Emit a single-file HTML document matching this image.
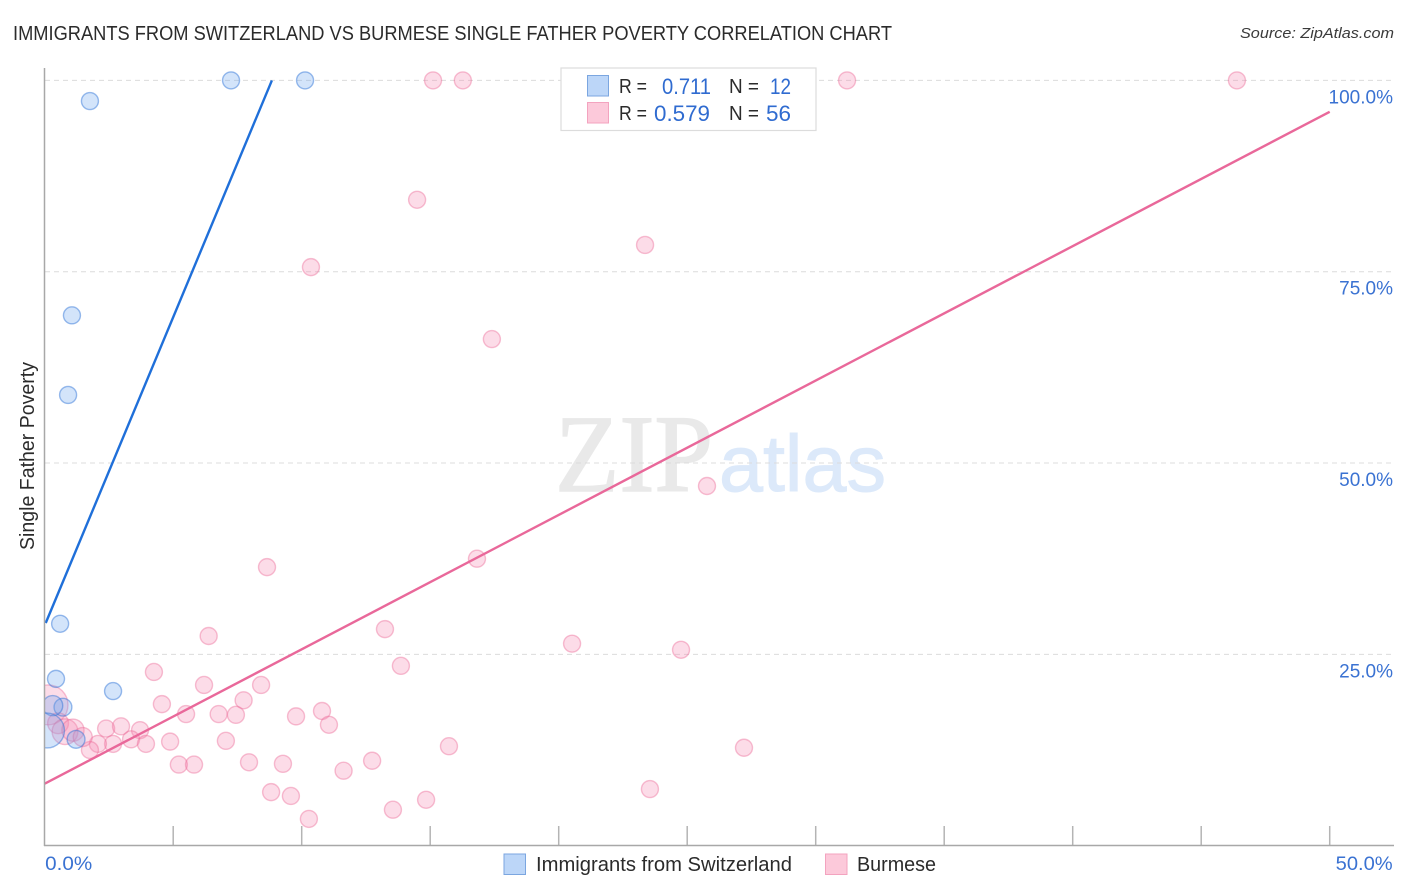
<!DOCTYPE html>
<html lang="en">
<head>
<meta charset="utf-8">
<title>Immigrants from Switzerland vs Burmese Single Father Poverty Correlation Chart</title>
<style>
html,body{margin:0;padding:0;background:#fff;width:1406px;height:892px;overflow:hidden}
svg{display:block;font-family:"Liberation Sans",sans-serif}
</style>
</head>
<body>
<svg id="chart" xmlns="http://www.w3.org/2000/svg" width="1406" height="892" viewBox="0 0 1406 892">
  <rect x="0" y="0" width="1406" height="892" fill="#fff"/>
  <text x="13" y="40" font-size="20" fill="#2b2b2b" textLength="879" lengthAdjust="spacingAndGlyphs">IMMIGRANTS FROM SWITZERLAND VS BURMESE SINGLE FATHER POVERTY CORRELATION CHART</text>
  <text x="1394" y="38" font-size="15" font-style="italic" fill="#3a3a3a" text-anchor="end" textLength="154" lengthAdjust="spacingAndGlyphs">Source: ZipAtlas.com</text>

  <g>
    <text x="555" y="491" font-family="'Liberation Serif',serif" font-size="110" fill="#e9e9e9" stroke="#e9e9e9" stroke-width="1.5" textLength="158" lengthAdjust="spacingAndGlyphs">ZIP</text>
    <text x="719" y="491" font-size="80" fill="#dce9fa" stroke="#dce9fa" stroke-width="1" textLength="167" lengthAdjust="spacingAndGlyphs">atlas</text>
  </g>

  <g id="grid"></g>
  <g id="x-ticks"></g>
  <g id="y-labels"></g>
  <g id="x-labels"></g>

  <g id="points-burmese"></g>
  <g id="points-swiss"></g>
  <g id="trends"></g>

  <rect x="0" y="660" width="44.5" height="110" fill="#fff"/>
  <g id="axes">
    <line x1="44.5" y1="68" x2="44.5" y2="846" stroke="#a8a8a8" stroke-width="1.5"/>
    <line x1="44" y1="845.5" x2="1394" y2="845.5" stroke="#a8a8a8" stroke-width="1.5"/>
  </g>

  <text transform="translate(34,456) rotate(-90)" font-size="20" fill="#2b2b2b" text-anchor="middle" textLength="188" lengthAdjust="spacingAndGlyphs">Single Father Poverty</text>

  <g>
    <rect x="561" y="68" width="255" height="62.5" fill="#fff" stroke="#dcdcdc" stroke-width="1.2"/>
    <rect x="587.5" y="75.5" width="21" height="20.5" fill="#bcd6f8" stroke="#7ba6e0" stroke-width="1"/>
    <rect x="587.5" y="102.5" width="21" height="20.5" fill="#fcc9da" stroke="#f3a3bf" stroke-width="1"/>
    <text x="619" y="93" font-size="20" fill="#2b2b2b" textLength="28" lengthAdjust="spacingAndGlyphs">R =</text>
    <text x="662" y="94" font-size="22" fill="#2f6bd0" textLength="49" lengthAdjust="spacingAndGlyphs">0.711</text>
    <text x="729" y="93" font-size="20" fill="#2b2b2b" textLength="30" lengthAdjust="spacingAndGlyphs">N =</text>
    <text x="770" y="94" font-size="22" fill="#2f6bd0" textLength="21" lengthAdjust="spacingAndGlyphs">12</text>
    <text x="619" y="120" font-size="20" fill="#2b2b2b" textLength="28" lengthAdjust="spacingAndGlyphs">R =</text>
    <text x="654" y="121" font-size="22" fill="#2f6bd0" textLength="56" lengthAdjust="spacingAndGlyphs">0.579</text>
    <text x="729" y="120" font-size="20" fill="#2b2b2b" textLength="30" lengthAdjust="spacingAndGlyphs">N =</text>
    <text x="766" y="121" font-size="22" fill="#2f6bd0" textLength="25" lengthAdjust="spacingAndGlyphs">56</text>
  </g>

  <g>
    <g>
      <rect x="504" y="854" width="21.5" height="20.5" fill="#bcd6f8" stroke="#7ba6e0" stroke-width="1"/>
      <text x="536" y="871" font-size="20" fill="#2b2b2b" textLength="256" lengthAdjust="spacingAndGlyphs">Immigrants from Switzerland</text>
    </g>
    <g>
      <rect x="825.5" y="854" width="21.5" height="20.5" fill="#fcc9da" stroke="#f3a3bf" stroke-width="1"/>
      <text x="857" y="871" font-size="20" fill="#2b2b2b" textLength="79" lengthAdjust="spacingAndGlyphs">Burmese</text>
    </g>
  </g>
</svg>
<script>
var yTickValues = [25, 50, 75, 100];
var yTickLabels = ['25.0%', '50.0%', '75.0%', '100.0%'];
var xTickValues = [0, 5, 10, 15, 20, 25, 30, 35, 40, 45, 50];
var xLabelValues = [0, 50];
var xLabelTexts = ['0.0%', '50.0%'];

var swissX = [1.76, 7.25, 10.13, 1.06, 0.91, 0.6, 0.44, 2.66, 0.71, 0.31, 1.22, 0.09];
var swissY = [97.3, 100, 100, 69.3, 58.9, 29.0, 21.8, 20.2, 18.1, 18.3, 13.9, 15.05];
var swissSize = [1, 1, 1, 1, 1, 1, 1, 1, 1.1, 1.4, 1.1, 4.2];

var burmeseX = [15.11, 16.27, 31.22, 46.39, 14.49, 23.36, 10.36, 17.40, 25.77, 16.82, 8.65, 6.38, 13.24, 20.52, 24.76, 13.86, 4.25, 6.2, 8.42, 4.56, 7.74, 5.5, 6.77, 7.44, 9.78, 10.79, 11.06, 2.39, 2.97, 3.71, 3.36, 2.66, 2.07, 1.76, 3.94, 4.88, 7.05, 15.73, 27.21, 11.63, 12.74, 5.22, 5.81, 7.95, 9.27, 8.81, 9.58, 10.28, 13.55, 14.84, 23.55, 0.13, 0.52, 0.79, 1.1, 1.48];
var burmeseY = [100, 100, 100, 100, 84.4, 78.5, 75.6, 66.2, 47.0, 37.5, 36.4, 27.4, 28.3, 26.4, 25.6, 23.5, 22.7, 21.0, 21.0, 18.5, 19.0, 17.2, 17.2, 17.1, 16.9, 17.6, 15.8, 15.3, 15.6, 15.1, 13.9, 13.3, 13.3, 12.5, 13.3, 13.6, 13.7, 13.0, 12.8, 9.8, 11.1, 10.6, 10.6, 10.9, 10.7, 7.0, 6.5, 3.5, 4.7, 6.0, 7.4, 18.4, 16.0, 14.9, 15.1, 14.2];
var burmeseSize = [1, 1, 1, 1, 1, 1, 1, 1, 1, 1, 1, 1, 1, 1, 1, 1, 1, 1, 1, 1, 1, 1, 1, 1, 1, 1, 1, 1, 1, 1, 1, 1, 1, 1, 1, 1, 1, 1, 1, 1, 1, 1, 1, 1, 1, 1, 1, 1, 1, 1, 1, 5.5, 1.5, 2.3, 1.7, 1.25];

var swissTrendX = [0.04, 8.84];
var swissTrendY = [29.1, 100];
var burmeseTrendX = [0, 50];
var burmeseTrendY = [8.1, 95.9];

var NS = 'http://www.w3.org/2000/svg';
function xScale(v) { return 44.7 + v * 25.7; }
function yScale(v) { return 845.7 - v * 7.653; }
function radius(s) { return 8.5 * Math.sqrt(s); }
function make(tag, parent, attrs) {
  var el = document.createElementNS(NS, tag);
  for (var k in attrs) { el.setAttribute(k, attrs[k]); }
  document.getElementById(parent).appendChild(el);
  return el;
}

yTickValues.forEach(function (v, i) {
  var grid = make('line', 'grid', { x1: 45, x2: 1394, y1: yScale(v), y2: yScale(v), stroke: '#dcdcdc', 'stroke-width': 1, 'stroke-dasharray': '5 4' });
  
  
  var label = make('text', 'y-labels', { x: 1393, y: yScale(v) + 23, 'font-size': 19, fill: '#3a72d2', 'text-anchor': 'end' });
  
  
  label.textContent = yTickLabels[i];
});

xTickValues.forEach(function (v) {
  if (v === 0) { return; }
  var tick = make('line', 'x-ticks', { x1: xScale(v), x2: xScale(v), y1: 826, y2: 846, stroke: '#b4b4b4', 'stroke-width': 1.5 });
  
  
});

xLabelValues.forEach(function (v, i) {
  var label = make('text', 'x-labels', { x: i === 0 ? xScale(v) + 0.5 : xScale(v) + 6, y: 870, 'font-size': 19, fill: '#3a72d2', textLength: i === 0 ? 47 : 57, lengthAdjust: 'spacingAndGlyphs' });
  
  
  label.textContent = xLabelTexts[i];
});

burmeseX.forEach(function (v, i) {
  var dot = make('circle', 'points-burmese', { cx: xScale(v), cy: yScale(burmeseY[i]), r: radius(burmeseSize[i]), fill: 'rgba(245,140,178,0.3)', stroke: 'rgba(235,105,150,0.42)', 'stroke-width': 1.4 });
  
  
});

swissX.forEach(function (v, i) {
  var dot = make('circle', 'points-swiss', { cx: xScale(v), cy: yScale(swissY[i]), r: radius(swissSize[i]), fill: 'rgba(110,165,240,0.3)', stroke: 'rgba(45,115,215,0.48)', 'stroke-width': 1.4 });
  
  
});

var swissLine = make('line', 'trends', { x1: xScale(swissTrendX[0]), y1: yScale(swissTrendY[0]), x2: xScale(swissTrendX[1]), y2: yScale(swissTrendY[1]), stroke: '#1f6fd9', 'stroke-width': 2.4 });



var burmeseLine = make('line', 'trends', { x1: xScale(burmeseTrendX[0]), y1: yScale(burmeseTrendY[0]), x2: xScale(burmeseTrendX[1]), y2: yScale(burmeseTrendY[1]), stroke: '#e9689a', 'stroke-width': 2.4 });


</script>
</body>
</html>
